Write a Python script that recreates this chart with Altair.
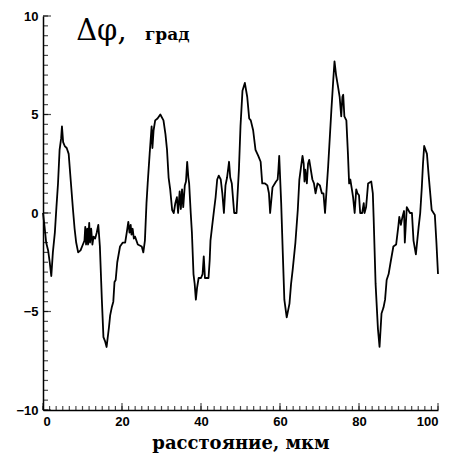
import altair as alt
import pandas as pd
import numpy as np

dist = [0, 0.4, 0.8, 1.3, 1.7, 2.1, 2.5, 3.0, 3.4, 3.8, 4.2, 4.6, 4.8, 5.1, 5.5, 6.0, 6.5, 7.0, 7.6, 8.0,
        8.4, 8.9, 9.5, 10.1, 10.5, 10.7, 10.9, 11.2, 11.4, 11.7, 11.9, 12.2, 12.5, 12.8, 13.2, 13.6, 14.0, 14.4, 14.9, 15.3,
        15.7, 16.1, 16.7, 17.0, 17.4, 17.8, 18.1, 18.4, 18.8, 19.5, 20.2, 20.8, 21.2, 21.6, 21.9, 22.2, 22.4, 22.7, 23.0, 23.3,
        24.0, 25.0, 25.4, 25.8, 26.2, 26.5, 27.0, 27.5, 27.7, 28.0, 28.4, 29.0, 29.7, 30.5, 31.0, 31.4, 31.8, 32.2, 32.7, 33.1,
        33.5, 33.9, 34.2, 34.6, 34.9, 35.2, 35.5, 35.9, 36.2, 36.5, 36.8, 37.0, 37.4, 37.7, 38.1, 38.4, 38.7, 39.0, 39.4, 40.0,
        40.4, 40.7, 41.0, 41.9, 42.2, 42.4, 42.8, 43.3, 43.7, 44.1, 44.5, 45.0, 45.4, 45.8, 46.2, 46.6, 47.1, 47.4, 47.8, 48.4,
        49.0, 49.6, 50.0, 50.5, 51.1, 51.7, 52.2, 52.6, 53.2, 53.8, 54.5, 55.1, 55.5, 56.2, 56.8, 57.2, 57.5, 58.1, 59.0, 59.4,
        59.6, 59.8, 60.3, 60.7, 61.1, 61.7, 62.4, 62.8, 63.2, 63.9, 64.5, 64.9, 65.3, 65.7, 66.0, 66.2, 66.4, 66.8, 67.1, 67.4,
        67.8, 68.2, 68.6, 69.0, 69.5, 70.1, 70.6, 71.0, 71.4, 72.2, 73.0, 73.5, 73.8, 74.2, 74.7, 75.1, 75.5, 75.8, 76.0, 76.3,
        76.8, 77.2, 77.5, 77.8, 78.2, 78.5, 78.9, 79.3, 79.6, 80.0, 80.3, 80.8, 81.2, 81.4, 81.8, 82.3, 83.1, 83.5, 83.7, 84.2,
        84.8, 85.2, 85.7, 86.2, 86.6, 87.0, 87.5, 88.0, 88.7, 89.4, 90.0, 90.2, 90.6, 91.0, 91.4, 91.6, 92.1, 92.9, 93.4, 93.8,
        94.4, 95.1, 95.5, 95.9, 96.2, 96.5, 97.2, 97.6, 97.9, 98.4, 99.2, 99.6, 100]

dphi = [0.0, -0.7, -1.5, -1.9, -2.5, -3.2, -2.0, -1.0, 0.3, 1.5, 3.2, 3.8, 4.4, 3.6, 3.4, 3.3, 3.0, 1.7, 0.15, -0.8,
        -1.5, -2.0, -1.9, -1.6, -1.4, -0.7, -1.6, -0.8, -1.6, -0.5, -1.5, -0.8, -1.6, -1.2, -1.3, -1.0, -0.6, -1.7, -4.4, -6.3,
        -6.5, -6.8, -5.8, -5.2, -4.8, -4.5, -3.5, -3.4, -2.5, -1.7, -1.5, -1.5, -1.0, -0.45, -1.0, -0.6, -1.1, -0.8, -1.3, -1.2,
        -1.6, -1.7, -2.0, -1.4, 0.5, 1.5, 3.0, 4.4, 3.3, 4.2, 4.7, 4.8, 5.0, 4.7, 4.0, 3.2, 1.8, 1.2, 0.15, 0.0,
        0.5, 0.8, 0.0, 1.1, 0.2, 1.2, 0.3, 1.4, 1.6, 2.6, 1.8, 1.5, 0.0, -1.0, -3.1, -3.6, -4.4, -3.8, -3.3, -3.3,
        -3.1, -2.2, -3.3, -3.3, -2.4, -1.4, -0.7, 0.15, 0.8, 1.7, 1.9, 1.7, 1.0, 0.0, 1.4, 1.8, 2.6, 1.8, 1.5, 0.0,
        0.0, 2.2, 4.4, 6.2, 6.6, 5.9, 4.8, 4.7, 4.2, 3.2, 2.9, 2.6, 1.5, 1.5, 1.4, 1.0, 0.0, 1.3, 1.6, 1.7,
        2.2, 2.9, 0.5, -2.0, -4.4, -5.3, -4.6, -3.6, -2.9, -1.5, 0.15, 1.7, 2.3, 2.9, 2.5, 1.6, 2.2, 1.5, 2.5, 2.7,
        2.2, 1.7, 1.5, 1.0, 1.5, 1.4, 1.0, 1.0, 0.0, 2.4, 5.2, 6.8, 7.7, 7.0, 6.4, 5.9, 4.9, 5.9, 6.0, 4.9,
        4.7, 3.0, 1.5, 1.7, 1.2, 0.8, 0.0, 1.2, 1.0, 0.9, 0.0, 0.0, 0.5, 0.0, 0.3, 1.5, 1.6, 1.0, -0.2, -3.6,
        -5.9, -6.8, -5.1, -4.8, -4.4, -3.4, -3.1, -2.5, -1.7, -1.6, -0.6, -0.2, -0.6, -0.2, 0.1, -1.5, 0.3, 0.0, 0.0, -1.4,
        -2.1, -0.7, 0.0, 1.3, 2.5, 3.4, 3.0, 2.0, 1.3, 0.15, -0.1, -1.5, -3.1]

x_major = [0, 20, 40, 60, 80, 100]
y_major = [-10, -5, 0, 5, 10]
x_minor = list(np.round(np.arange(0, 100.001, 20 / 12), 4))
y_minor = list(np.arange(-10, 10.001, 0.5))

x_title = "расстояние, мкм"
y_symbol = "Δφ,"
y_unit = "град"

df = pd.DataFrame({"x": dist, "y": dphi})
xs = alt.Scale(domain=[0, 100], nice=False, zero=False)
ys = alt.Scale(domain=[-10, 10], nice=False, zero=False)

x_axis = alt.Axis(values=x_major, title=x_title, labelPadding=5, titlePadding=6,
                  titleFont="DejaVu Serif", titleFontSize=18, titleFontWeight="bold", titleColor="black")
y_axis = alt.Axis(values=y_major, title=None, labelPadding=5)

line = alt.Chart(df).mark_line(color="black", strokeWidth=1.8, strokeJoin="round").encode(
    x=alt.X("x:Q", scale=xs, axis=x_axis),
    y=alt.Y("y:Q", scale=ys, axis=y_axis),
)

def xticks(vals, size):
    d = pd.DataFrame({"x": vals, "y": [-10] * len(vals)})
    return alt.Chart(d).mark_tick(orient="vertical", color="black", size=size, thickness=1.2,
                                  yOffset=-size / 2).encode(
        x=alt.X("x:Q", scale=xs, axis=x_axis), y=alt.Y("y:Q", scale=ys, axis=y_axis))

def yticks(vals, size):
    d = pd.DataFrame({"y": vals, "x": [0] * len(vals)})
    return alt.Chart(d).mark_tick(orient="horizontal", color="black", size=size, thickness=1.2,
                                  xOffset=size / 2).encode(
        y=alt.Y("y:Q", scale=ys, axis=y_axis), x=alt.X("x:Q", scale=xs, axis=x_axis))

sym = alt.Chart(pd.DataFrame({"t": [y_symbol]})).mark_text(
    align="left", baseline="alphabetic", font="DejaVu Serif", fontSize=29, color="black").encode(
    x=alt.datum(8.4, scale=xs), y=alt.datum(8.8, scale=ys), text="t:N")
unit = alt.Chart(pd.DataFrame({"t": [y_unit]})).mark_text(
    align="left", baseline="alphabetic", font="DejaVu Serif", fontWeight="bold", fontSize=17,
    color="black").encode(
    x=alt.datum(25.8, scale=xs), y=alt.datum(8.8, scale=ys), text="t:N")

chart = alt.layer(
    line, xticks(x_minor, 4), xticks(x_major, 7), yticks(y_minor, 5), yticks(y_major, 8), sym, unit
).properties(
    width=395, height=394, autosize=alt.AutoSizeParams(type="none"),
    padding={"left": 35, "top": 8, "right": 7, "bottom": 45},
).configure_view(stroke=None).configure_axis(
    grid=False, ticks=False, tickSize=0, domainColor="black", domainWidth=1.5,
    labelFont="Liberation Sans", labelFontWeight="bold", labelFontSize=13, labelColor="black",
)

chart.save("out.html", embed_options={"renderer": "svg", "actions": False})
